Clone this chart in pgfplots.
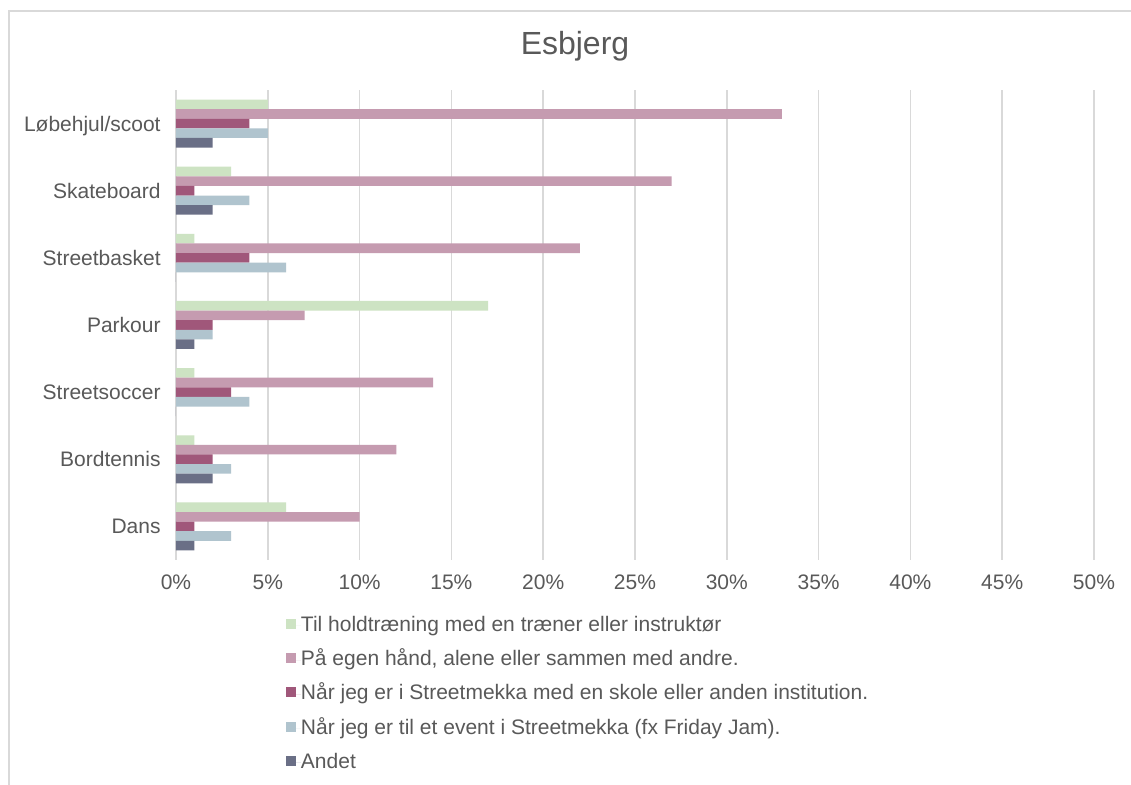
\documentclass[border=0pt]{standalone}
\usepackage{pgfplots}
\pgfplotsset{compat=1.18}
\usepackage{fontspec}
\setmainfont{Liberation Sans}
\definecolor{cgreen}{HTML}{CDE3C3}
\definecolor{cpink}{HTML}{C59BB0}
\definecolor{cmag}{HTML}{A0577A}
\definecolor{cblue}{HTML}{B0C4CE}
\definecolor{cslate}{HTML}{6A6F86}
\definecolor{txt}{HTML}{595959}
\definecolor{gridc}{HTML}{D9D9D9}
\begin{document}
\begin{tikzpicture}
\useasboundingbox (0,0) rectangle (565.5pt,392.5pt);
\fill[white] (0,0) rectangle (565.5pt,392.5pt);
\draw[gridc, line width=0.75pt] (4.5pt,-2pt) -- (4.5pt,387pt) -- (568pt,387pt);
\node[text=txt, font=\fontsize{16}{19}\selectfont, anchor=base] at (287.5pt,365pt) {Esbjerg};
\begin{axis}[
  at={(88pt,112.5pt)}, anchor=south west,
  scale only axis, width=459pt, height=235pt,
  xbar, bar width=0.143,
  xmin=0, xmax=50, ymin=-0.5, ymax=6.5,
  xtick={0,5,...,50},
  xticklabel={\pgfmathprintnumber{\tick}\%},
  ytick={0,1,2,3,4,5,6},
  yticklabels={Dans,Bordtennis,Streetsoccer,Parkour,Streetbasket,Skateboard,Løbehjul/scoot},
  /pgf/number format/assume math mode=true,
  ticklabel style={font=\fontsize{10.5}{12}\selectfont, text=txt},
  xticklabel style={inner sep=0pt, text height=7.5pt, text depth=0pt, anchor=center, yshift=-11pt},
  yticklabel style={inner sep=0pt, text height=7.5pt, text depth=0pt, anchor=east, xshift=-7.5pt},
  axis line style={draw=none},
  major tick length=0pt,
  xmajorgrids, grid style={gridc, line width=0.75pt},
  every axis plot/.append style={draw=none,
    legend image code/.code={\fill[##1] (0pt,-1.5pt) rectangle (5pt,3.5pt); \path (0pt,0pt) -- (7.5pt,0pt);}},
  legend cell align=left,
  legend style={at={(0.1198,-0.118)}, anchor=north west, draw=none, fill=none,
    inner sep=0pt, outer sep=0pt,
    font=\fontsize{10.5}{12}\selectfont, text=txt, row sep=6.6pt,
    nodes={inner sep=0pt, text height=8pt, text depth=2.5pt}},
]
\addplot[fill=cgreen, bar shift=0.286] coordinates {(5,6) (3,5) (1,4) (17,3) (1,2) (1,1) (6,0)};
\addplot[fill=cpink, bar shift=0.143] coordinates {(33,6) (27,5) (22,4) (7,3) (14,2) (12,1) (10,0)};
\addplot[fill=cmag, bar shift=0] coordinates {(4,6) (1,5) (4,4) (2,3) (3,2) (2,1) (1,0)};
\addplot[fill=cblue, bar shift=-0.143] coordinates {(5,6) (4,5) (6,4) (2,3) (4,2) (3,1) (3,0)};
\addplot[fill=cslate, bar shift=-0.286] coordinates {(2,6) (2,5) (0,4) (1,3) (0,2) (2,1) (1,0)};
\legend{Til holdtræning med en træner eller instruktør,
  {På egen hånd, alene eller sammen med andre.},
  Når jeg er i Streetmekka med en skole eller anden institution.,
  Når jeg er til et event i Streetmekka (fx Friday Jam).,
  Andet}
\end{axis}
\end{tikzpicture}
\end{document}
